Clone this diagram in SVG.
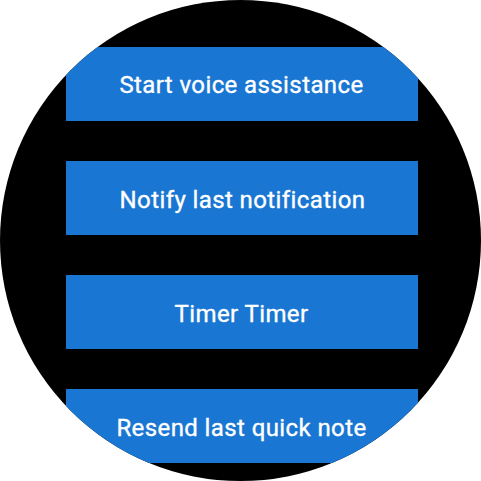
<svg xmlns="http://www.w3.org/2000/svg" width="481" height="481" viewBox="0 0 481 481">
<defs>
<clipPath id="round"><circle cx="240.5" cy="240.5" r="240.5"/></clipPath>
<style>
.btn{fill:#1976D2}
.lbl{font-family:Roboto,"Liberation Sans",sans-serif;font-size:24px;font-weight:400;letter-spacing:0.4px;fill:#FFFFFF;stroke:#FFFFFF;stroke-width:0.35px;text-anchor:middle}
</style>
</defs>
<rect x="0" y="0" width="481" height="481" fill="#FFFFFF"/>
<g clip-path="url(#round)">
<rect x="0" y="0" width="481" height="481" fill="#000000"/>
<g id="node1"><rect class="btn" x="66" y="47" width="352" height="74"/><text class="lbl" x="241.5" y="93">Start voice assistance</text></g>
<g id="node2"><rect class="btn" x="66" y="161" width="352" height="74"/><text class="lbl" x="242.5" y="207.5">Notify last notification</text></g>
<g id="node3"><rect class="btn" x="66" y="275" width="352" height="74"/><text class="lbl" x="241.5" y="321.5">Timer Timer</text></g>
<g id="node4"><rect class="btn" x="66" y="389" width="352" height="74"/><text class="lbl" x="241.5" y="435.5">Resend last quick note</text></g>
<g id="connectors"/>
</g>
</svg>
